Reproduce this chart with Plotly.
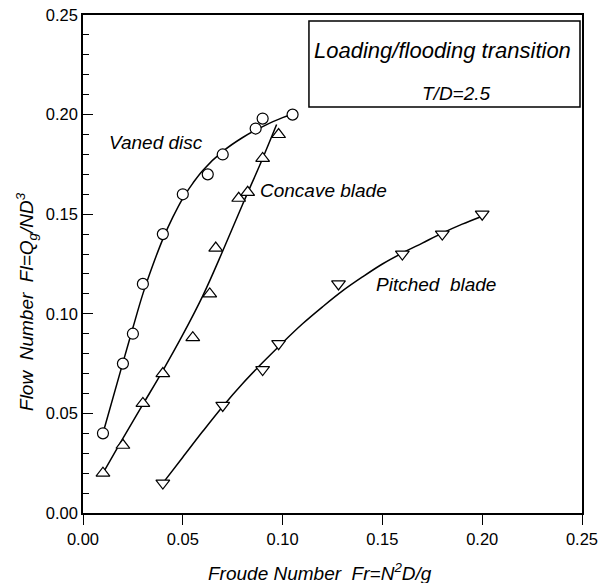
import plotly.graph_objects as go

# measured points (Froude number vs flow number)
vaned_fr = [0.010, 0.020, 0.025, 0.030, 0.040, 0.050, 0.0625, 0.070, 0.0865, 0.090, 0.105]
vaned_fl = [0.040, 0.075, 0.090, 0.115, 0.140, 0.160, 0.170, 0.180, 0.193, 0.198, 0.200]

concave_fr = [0.010, 0.020, 0.030, 0.040, 0.055, 0.0635, 0.0665, 0.078, 0.0825, 0.090, 0.098]
concave_fl = [0.020, 0.034, 0.055, 0.070, 0.088, 0.110, 0.133, 0.158, 0.161, 0.178, 0.190]

pitched_fr = [0.040, 0.070, 0.090, 0.098, 0.128, 0.160, 0.180, 0.200]
pitched_fl = [0.015, 0.054, 0.072, 0.085, 0.115, 0.130, 0.140, 0.150]

# fitted curves
vaned_fit_fr = [0.010, 0.020, 0.025, 0.030, 0.035, 0.040, 0.045, 0.050, 0.055, 0.060, 0.070, 0.080, 0.090, 0.100, 0.105]
vaned_fit_fl = [0.040, 0.0755, 0.093, 0.110, 0.1245, 0.1375, 0.1485, 0.158, 0.1655, 0.172, 0.1815, 0.1885, 0.194, 0.1985, 0.200]

concave_fit_fr = [0.010, 0.020, 0.030, 0.040, 0.050, 0.060, 0.070, 0.080, 0.090, 0.097]
concave_fit_fl = [0.020, 0.0375, 0.0545, 0.0715, 0.0895, 0.109, 0.1315, 0.155, 0.178, 0.195]

pitched_fit_fr = [0.040, 0.050, 0.060, 0.070, 0.080, 0.090, 0.100, 0.110, 0.120, 0.130, 0.140, 0.150, 0.160, 0.170, 0.180, 0.190, 0.200]
pitched_fit_fl = [0.015, 0.028, 0.041, 0.0535, 0.065, 0.0755, 0.0855, 0.095, 0.1035, 0.1115, 0.1185, 0.125, 0.1305, 0.1355, 0.1405, 0.145, 0.149]

FONT = "Liberation Sans, Arial, sans-serif"

fig = go.Figure()

for fx, fy in [(vaned_fit_fr, vaned_fit_fl), (concave_fit_fr, concave_fit_fl), (pitched_fit_fr, pitched_fit_fl)]:
    fig.add_trace(go.Scatter(x=fx, y=fy, mode='lines', line=dict(color='black', width=1.5, shape='spline'),
                             showlegend=False, hoverinfo='skip'))

fig.add_trace(go.Scatter(x=vaned_fr, y=vaned_fl, mode='markers', name='Vaned disc',
                         marker=dict(symbol='circle', size=11, color='white', line=dict(color='black', width=1.2))))
fig.add_trace(go.Scatter(x=concave_fr, y=concave_fl, mode='markers', name='Concave blade',
                         marker=dict(symbol='triangle-up', size=12, color='white', line=dict(color='black', width=1.2))))
fig.add_trace(go.Scatter(x=pitched_fr, y=pitched_fl, mode='markers', name='Pitched blade',
                         marker=dict(symbol='triangle-down', size=12, color='white', line=dict(color='black', width=1.2))))

lab = dict(family=FONT, size=19, color='black')
fig.add_annotation(x=0.0366, y=0.186, text='<i>Vaned disc</i>', showarrow=False, font=lab)
fig.add_annotation(x=0.0877, y=0.162, text='<i>Concave blade</i>', showarrow=False, font=lab, xanchor='left')
fig.add_annotation(x=0.177, y=0.1145, text='<i>Pitched&nbsp; blade</i>', showarrow=False, font=lab)

# info box top right
fig.add_shape(type='rect', x0=0.1132, x1=0.249, y0=0.2038, y1=0.247,
              line=dict(color='black', width=1.5), fillcolor='white')
fig.add_annotation(x=0.180, y=0.2324, text='<i>Loading/flooding transition</i>', showarrow=False,
                   font=dict(family=FONT, size=22, color='black'))
fig.add_annotation(x=0.187, y=0.2108, text='<i>T/D=2.5</i>', showarrow=False,
                   font=dict(family=FONT, size=19, color='black'))

# axis titles as annotations so they sit where the original has them
ttl = dict(family=FONT, size=19, color='black')
fig.add_annotation(xref='paper', yref='paper', x=-0.112, y=0.424, textangle=-90,
                   xanchor='center', yanchor='middle',
                   text='<i>Flow&nbsp; Number&nbsp; Fl=Q<sub>g</sub>/ND<sup>3</sup></i>',
                   showarrow=False, font=ttl)
fig.add_annotation(xref='paper', yref='paper', x=0.475, y=-0.118,
                   xanchor='center', yanchor='middle',
                   text='<i>Froude Number&nbsp; Fr=N<sup>2</sup>D/g</i>',
                   showarrow=False, font=ttl)

tickf = dict(family=FONT, size=16.5, color='black')
fig.update_xaxes(range=[0, 0.25], tickvals=[0, 0.05, 0.10, 0.15, 0.20, 0.25], tickformat='.2f',
                 ticks='outside', ticklen=10, tickwidth=1.2, tickcolor='black',
                 showline=True, linecolor='black', linewidth=1.5, mirror=True,
                 showgrid=False, zeroline=False, tickfont=tickf, ticklabeloverflow='allow')
fig.update_yaxes(range=[0, 0.25], tickvals=[0, 0.05, 0.10, 0.15, 0.20, 0.25], tickformat='.2f',
                 ticks='inside', ticklen=10, tickwidth=1.2, tickcolor='black',
                 minor=dict(dtick=0.01, ticks='inside', ticklen=6, tickcolor='black', tickwidth=1),
                 showline=True, linecolor='black', linewidth=1.5, mirror=True,
                 showgrid=False, zeroline=False, tickfont=tickf, ticklabeloverflow='allow')

fig.update_layout(width=612, height=583, margin=dict(l=83, r=30, t=15, b=70, autoexpand=False),
                  plot_bgcolor='white', paper_bgcolor='white', showlegend=False)

# drop the page's default body margin so the figure fills the window
fig.write_html("out.html", config={'displayModeBar': False},
               post_script="document.body.style.margin='0';")
